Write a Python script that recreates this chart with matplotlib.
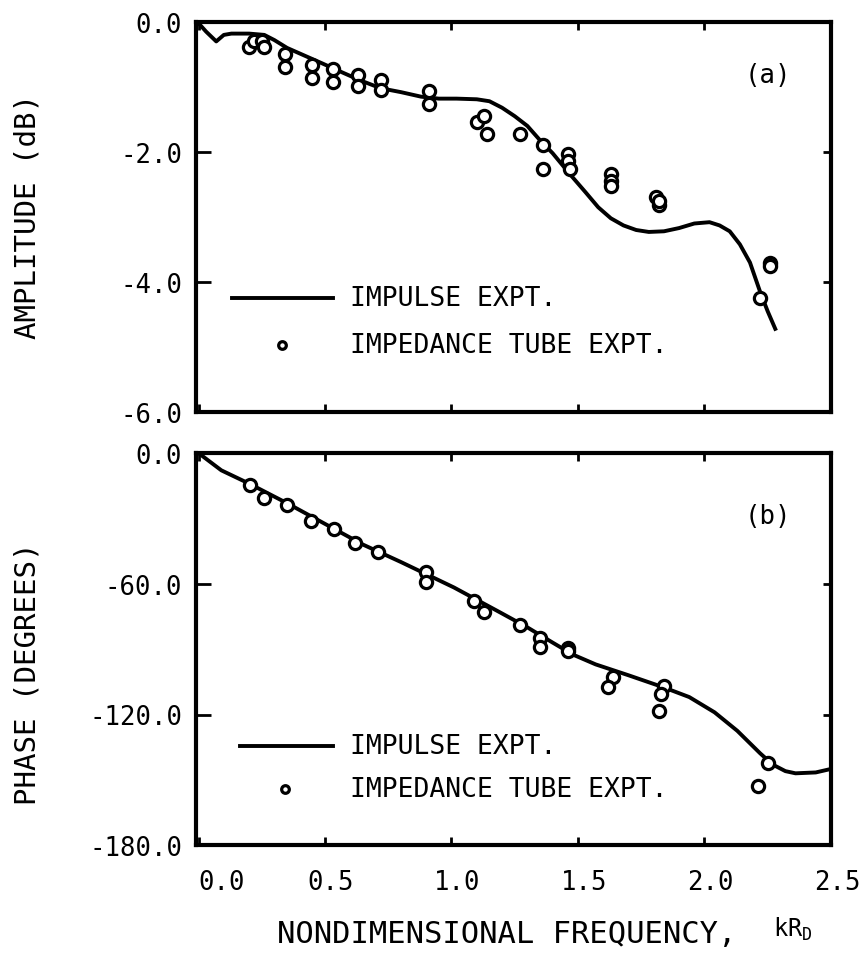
import numpy as np
import matplotlib.pyplot as plt
from matplotlib.transforms import ScaledTranslation

plt.rcParams['font.family'] = ['DejaVu Sans Mono']
plt.rcParams['mathtext.fontset'] = 'dejavusans'

# --- datos ---
# curva amplitud (impulse expt.)
amp_x = [0.0, 0.03, 0.07, 0.10, 0.13, 0.20, 0.26, 0.30, 0.35, 0.42, 0.49, 0.57, 0.64,
         0.72, 0.80, 0.88, 0.95, 1.02, 1.10, 1.15, 1.20, 1.25, 1.30, 1.35, 1.40, 1.47,
         1.53, 1.58, 1.63, 1.68, 1.73, 1.78, 1.84, 1.90, 1.96, 2.02, 2.06, 2.10, 2.14,
         2.18, 2.22, 2.25, 2.28]
amp_y = [-0.02, -0.15, -0.30, -0.20, -0.18, -0.18, -0.20, -0.28, -0.40, -0.52, -0.64, -0.78, -0.90,
         -1.02, -1.08, -1.15, -1.18, -1.18, -1.19, -1.22, -1.32, -1.45, -1.60, -1.82, -2.02, -2.35,
         -2.62, -2.85, -3.02, -3.13, -3.20, -3.23, -3.22, -3.17, -3.10, -3.08, -3.13, -3.22, -3.42,
         -3.70, -4.15, -4.45, -4.72]

# puntos amplitud (impedance tube expt.)
amp_pts_x = [0.20, 0.22, 0.25, 0.26, 0.34, 0.34, 0.45, 0.45, 0.53, 0.53, 0.63, 0.63, 0.72, 0.72,
             0.91, 0.91, 1.10, 1.13, 1.14, 1.27, 1.36, 1.36, 1.46, 1.46, 1.47, 1.63, 1.63, 1.63,
             1.81, 1.82, 1.82, 2.22, 2.26, 2.26]
amp_pts_y = [-0.38, -0.30, -0.30, -0.38, -0.50, -0.70, -0.66, -0.86, -0.73, -0.93, -0.81, -0.99, -0.89, -1.04,
             -1.07, -1.27, -1.54, -1.45, -1.73, -1.73, -1.90, -2.26, -2.03, -2.14, -2.26, -2.34, -2.44, -2.53,
             -2.69, -2.82, -2.76, -4.24, -3.70, -3.76]

# curva fase (impulse expt.)
ph_x = [0.0, 0.09, 0.20, 0.35, 0.50, 0.65, 0.80, 1.01, 1.19, 1.30, 1.40, 1.48, 1.57, 1.70,
        1.84, 1.94, 2.04, 2.13, 2.22, 2.27, 2.32, 2.36, 2.44, 2.50]
ph_y = [0.0, -7.9, -14.0, -23.0, -32.5, -42.0, -50.0, -61.7, -73.0, -80.0, -87.0, -92.5, -97.0, -102.0,
        -107.6, -112.0, -119.0, -127.5, -137.8, -143.0, -146.0, -147.0, -146.6, -145.0]

# puntos fase (impedance tube expt.)
ph_pts_x = [0.205, 0.26, 0.35, 0.445, 0.535, 0.62, 0.71, 0.90, 0.90, 1.09, 1.13, 1.27,
            1.35, 1.35, 1.46, 1.46, 1.64, 1.62, 1.84, 1.83, 1.82, 2.25, 2.21]
ph_pts_y = [-14.8, -20.4, -24.0, -31.0, -34.8, -41.3, -45.5, -54.7, -59.4, -68.0, -73.0, -78.8,
            -84.9, -89.0, -89.5, -91.0, -103.0, -107.6, -106.7, -110.4, -118.3, -142.4, -153.0]

amp_ticks = [0.0, -2.0, -4.0, -6.0]
ph_ticks = [0.0, -60.0, -120.0, -180.0]
x_ticks = [0.0, 0.5, 1.0, 1.5, 2.0, 2.5]

fig = plt.figure(figsize=(8.65, 9.54), dpi=100)
ax1 = fig.add_axes([0.2266, 0.567, 0.734, 0.409])
ax2 = fig.add_axes([0.2266, 0.113, 0.734, 0.411])

lw = 2.8
mk = dict(marker='o', linestyle='none', markersize=8.8, markerfacecolor='white',
          markeredgecolor='black', markeredgewidth=2.3)
mk_leg = dict(mk, markersize=5.5)

def estilo(ax, yticks):
    ax.set_xlim(-0.01, 2.5)
    ax.set_ylim(yticks[-1], yticks[0])
    ax.set_xticks(x_ticks)
    ax.set_yticks(yticks)
    ax.set_yticklabels([f"{v:.1f}" for v in yticks])
    ax.tick_params(direction='in', top=True, right=True, length=6, width=2,
                   labelsize=18.5, pad=10)
    for t in ax.yaxis.get_major_ticks():
        t.tick1line.set_markersize(11)
    for s in ax.spines.values():
        s.set_linewidth(3.0)

# (a) amplitud
ax1.plot(amp_x, amp_y, color='black', lw=lw)
ax1.plot(amp_pts_x, amp_pts_y, **mk)
estilo(ax1, amp_ticks)
ax1.tick_params(labelbottom=False)
ax1.set_ylabel("AMPLITUDE (dB)", fontsize=21)
ax1.yaxis.set_label_coords(-0.243, 0.505)
ax1.text(0.90, 0.864, "(a)", transform=ax1.transAxes, fontsize=18.5, ha='center', va='center')
ax1.plot([0.057, 0.216], [0.292, 0.292], transform=ax1.transAxes, color='black', lw=lw)
ax1.plot([0.135], [0.172], transform=ax1.transAxes, **mk_leg)
ax1.text(0.243, 0.292, "IMPULSE EXPT.", transform=ax1.transAxes, fontsize=19, va='center')
ax1.text(0.243, 0.172, "IMPEDANCE TUBE EXPT.", transform=ax1.transAxes, fontsize=19, va='center')

# (b) fase
ax2.plot(ph_x, ph_y, color='black', lw=lw)
ax2.plot(ph_pts_x, ph_pts_y, **mk)
estilo(ax2, ph_ticks)
ax2.set_xticklabels([f"{v:.1f}" for v in x_ticks])
ax2.tick_params(axis='x', pad=17)
desplaza = ScaledTranslation(6 / 100, 0, fig.dpi_scale_trans)
for i, lab in enumerate(ax2.get_xticklabels()):
    if i == 0:
        lab.set_horizontalalignment('left')
    else:
        lab.set_transform(lab.get_transform() + desplaza)
ax2.set_ylabel("PHASE (DEGREES)", fontsize=21)
ax2.yaxis.set_label_coords(-0.243, 0.441)
ax2.text(0.90, 0.84, "(b)", transform=ax2.transAxes, fontsize=18.5, ha='center', va='center')
ax2.plot([0.069, 0.216], [0.253, 0.253], transform=ax2.transAxes, color='black', lw=lw)
ax2.plot([0.14], [0.143], transform=ax2.transAxes, **mk_leg)
ax2.text(0.243, 0.253, "IMPULSE EXPT.", transform=ax2.transAxes, fontsize=19, va='center')
ax2.text(0.243, 0.143, "IMPEDANCE TUBE EXPT.", transform=ax2.transAxes, fontsize=19, va='center')

fig.text(0.320, 0.02, "NONDIMENSIONAL FREQUENCY,", fontsize=22, ha='left', va='center')
fig.text(0.894, 0.026, r"kR$_{\mathtt{D}}$", fontsize=17, ha='left', va='center')

plt.savefig("out.png", dpi=100)
